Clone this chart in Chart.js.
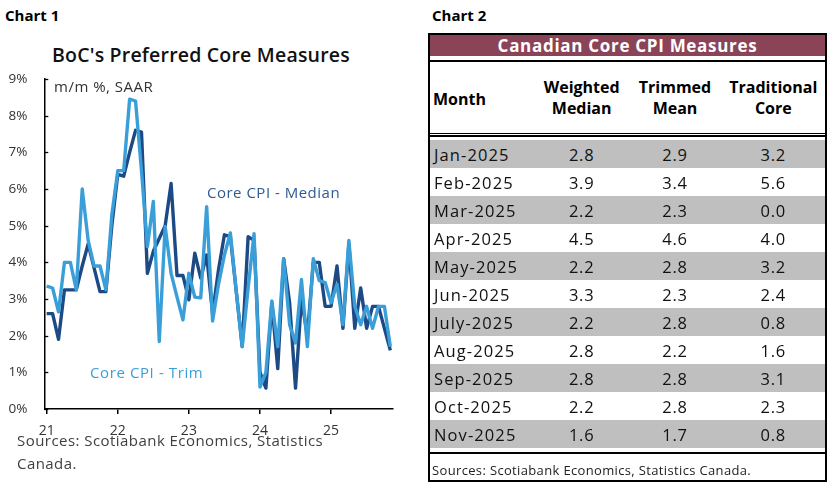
<!DOCTYPE html>
<html>
<head>
<meta charset="utf-8">
<script src="https://cdn.jsdelivr.net/npm/chart.js@4/dist/chart.umd.min.js"></script>
<style>
  html, body { margin: 0; padding: 0; background: #fff; }
  body { width: 828px; height: 483px; position: relative; overflow: hidden; font-family: "Open Sans", "Noto Sans", sans-serif; }
  .t { position: absolute; white-space: nowrap; }
  #c1 { position: absolute; left: 0; top: 0; width: 420px; height: 483px; }
  #tbl { position: absolute; left: 428px; top: 33px; width: 399px; height: 449px; border: 2px solid #000; box-sizing: border-box; }
  #tbl .a { position: absolute; white-space: nowrap; }
  .row { position: absolute; left: 0; right: 0; height: 28px; }
  .cell { position: absolute; top: 0; height: 28px; line-height: 30px; font-size: 16.5px; color: #111; letter-spacing: 1.1px; }
  .num { width: 90px; text-align: center; letter-spacing: 0.8px; }
  .hd { position: absolute; font-weight: 700; font-size: 16px; color: #000; text-align: center; line-height: 21px; }
</style>
</head>
<body>
<div class="t" style="left:5px;top:5px;font-size:15px;font-weight:700;line-height:20px;color:#000;">Chart 1</div>
<div class="t" style="left:52px;top:42px;font-size:19.5px;font-weight:600;line-height:25px;color:#111;letter-spacing:0.2px;">BoC's Preferred Core Measures</div>
<div id="c1"><canvas id="chart"></canvas></div>
<div class="t" style="left:54px;top:76px;font-size:15px;line-height:21px;color:#333;letter-spacing:0.5px;">m/m %, SAAR</div>
<div class="t" style="left:207px;top:182px;font-size:15px;line-height:21px;color:#2f5a92;letter-spacing:0.5px;">Core CPI - Median</div>
<div class="t" style="left:90px;top:362px;font-size:15px;line-height:21px;color:#3a9fd8;letter-spacing:0.6px;">Core CPI - Trim</div>
<div class="t" style="left:17px;top:429px;font-size:15px;line-height:23px;color:#404040;letter-spacing:0.45px;">Sources: Scotiabank Economics, Statistics<br>Canada.</div>

<div class="t" style="left:432px;top:5px;font-size:15px;font-weight:700;line-height:20px;color:#000;">Chart 2</div>
<div id="tbl"></div>

<script>
// ---------- Chart 1 data ----------
const months = [
  "2021-01","2021-02","2021-03","2021-04","2021-05","2021-06","2021-07","2021-08","2021-09","2021-10","2021-11","2021-12",
  "2022-01","2022-02","2022-03","2022-04","2022-05","2022-06","2022-07","2022-08","2022-09","2022-10","2022-11","2022-12",
  "2023-01","2023-02","2023-03","2023-04","2023-05","2023-06","2023-07","2023-08","2023-09","2023-10","2023-11","2023-12",
  "2024-01","2024-02","2024-03","2024-04","2024-05","2024-06","2024-07","2024-08","2024-09","2024-10","2024-11","2024-12",
  "2025-01","2025-02","2025-03","2025-04","2025-05","2025-06","2025-07","2025-08","2025-09","2025-10","2025-11"
];
const coreMedian = [
  2.6, 2.6, 1.9, 3.25, 3.25, 3.25, 3.9, 4.5, 3.85, 3.2, 3.2, 5.0,
  6.4, 6.35, 7.0, 7.6, 7.55, 3.7, 4.3, 4.65, 5.0, 6.15, 3.64, 3.64,
  2.98, 4.25, 3.57, 4.2, 2.6, 3.8, 4.75, 4.7, 3.2, 1.7, 4.7, 4.6,
  1.0, 0.57, 2.9, 1.1, 4.1, 2.9, 0.57, 3.0, 2.0, 4.0, 4.0, 2.8,
  2.8, 3.9, 2.2, 4.5, 2.2, 3.3, 2.2, 2.8, 2.8, 2.2, 1.6
];
const coreTrim = [
  3.35, 3.3, 2.65, 4.0, 4.0, 3.25, 6.0, 4.6, 3.9, 3.9, 3.25, 5.3,
  6.5, 6.5, 8.45, 8.4, 6.5, 4.43, 5.66, 1.84, 4.98, 3.7, 3.05, 2.43,
  3.7, 3.05, 3.03, 5.52, 2.4, 3.4, 4.2, 4.8, 3.2, 1.7, 3.3, 4.78,
  0.6, 1.0, 2.95, 1.7, 4.1, 2.3, 1.8, 3.53, 1.7, 4.1, 3.5, 3.45,
  2.9, 3.4, 2.3, 4.6, 2.8, 2.3, 2.8, 2.2, 2.8, 2.8, 1.7
];
const yearTickLabels = ["21", "22", "23", "24", "25"];
const yTickValues = [0, 1, 2, 3, 4, 5, 6, 7, 8, 9];

// ---------- Chart 2 data ----------
const tableMonths = ["Jan-2025","Feb-2025","Mar-2025","Apr-2025","May-2025","Jun-2025","July-2025","Aug-2025","Sep-2025","Oct-2025","Nov-2025"];
const weightedMedian = ["2.8","3.9","2.2","4.5","2.2","3.3","2.2","2.8","2.8","2.2","1.6"];
const trimmedMean    = ["2.9","3.4","2.3","4.6","2.8","2.3","2.8","2.2","2.8","2.8","1.7"];
const traditionalCore= ["3.2","5.6","0.0","4.0","3.2","2.4","0.8","1.6","3.1","2.3","0.8"];

const DARK = "#1d4a85";
const LIGHT = "#3a9fd8";

const toXY = (arr) => arr.map((v, i) => ({ x: i, y: v }));
const janIndices = months.map((m, i) => m.endsWith("-01") ? i : null).filter(v => v !== null);

const innerTicks = {
  id: "innerTicks",
  afterDraw(chart) {
    const { ctx, chartArea, scales } = chart;
    ctx.save();
    ctx.strokeStyle = "#000";
    ctx.lineWidth = 1.3;
    yTickValues.forEach(v => {
      const y = Math.round(scales.y.getPixelForValue(v)) + 0.5;
      ctx.beginPath();
      ctx.moveTo(chartArea.left, y);
      ctx.lineTo(chartArea.left + 4, y);
      ctx.stroke();
    });
    ctx.restore();
  }
};

new Chart(document.getElementById("chart"), {
  type: "line",
  data: {
    datasets: [
      { label: "Core CPI - Trim", data: toXY(coreTrim), borderColor: LIGHT, borderWidth: 3.4, pointRadius: 0, tension: 0, borderJoinStyle: "round", order: 0 },
      { label: "Core CPI - Median", data: toXY(coreMedian), borderColor: DARK, borderWidth: 3.4, pointRadius: 0, tension: 0, borderJoinStyle: "round", order: 1 }
    ]
  },
  options: {
    responsive: true,
    maintainAspectRatio: false,
    animation: false,
    layout: { padding: { left: 0, top: 79, right: 27, bottom: 44 } },
    plugins: { legend: { display: false }, tooltip: { enabled: false }, title: { display: false } },
    scales: {
      x: {
        type: "linear",
        min: -0.4,
        max: 58.45,
        afterBuildTicks: (scale) => { scale.ticks = janIndices.map(v => ({ value: v })); },
        afterFit: (scale) => { scale.height = 30; },
        border: { display: true, color: "#000", width: 1.5 },
        grid: { display: true, drawOnChartArea: false, drawTicks: true, tickLength: 5, color: "#000", lineWidth: 1.5 },
        ticks: {
          padding: 9,
          maxRotation: 0,
          autoSkip: false,
          color: "#333",
          font: { family: "Open Sans", size: 14 },
          callback: (value, index) => yearTickLabels[index]
        }
      },
      y: {
        min: 0,
        max: 9,
        afterBuildTicks: (scale) => { scale.ticks = yTickValues.map(v => ({ value: v })); },
        afterFit: (scale) => { scale.width = 44.3; },
        border: { display: true, color: "#000", width: 1.5 },
        grid: { display: true, drawOnChartArea: false, drawTicks: false },
        ticks: {
          padding: 17,
          color: "#333",
          font: { family: "Open Sans", size: 13.5 },
          callback: (v) => v + "%"
        }
      }
    }
  },
  plugins: [innerTicks]
});

// ---------- Build table ----------
const tbl = document.getElementById("tbl");
function add(html, style, cls) {
  const d = document.createElement("div");
  d.className = cls || "a";
  d.setAttribute("style", style);
  d.innerHTML = html;
  tbl.appendChild(d);
  return d;
}
// inner coords: x = abs - 430, y = abs - 35
add("Canadian Core CPI Measures", "left:0;right:0;top:0;height:21px;background:#8b4358;color:#fff;font-weight:700;font-size:17px;line-height:21px;text-align:center;letter-spacing:0.7px;");
add("", "left:0;right:0;top:25px;height:2px;background:#000;");
add("Month", "left:3px;top:54px;font-weight:700;font-size:16px;line-height:21px;color:#000;");
const colCenters = [151.7, 245, 343.3];
const headers = [["Weighted","Median"],["Trimmed","Mean"],["Traditional","Core"]];
headers.forEach((h, k) => {
  add(h[0] + "<br>" + h[1], "left:" + (colCenters[k] - 55) + "px;width:110px;top:42px;", "hd");
});
add("", "left:0;right:0;top:98px;height:1px;background:#000;");
add("", "left:0;right:0;top:100px;height:2px;background:#000;");
const rowTop = 105, rowH = 28.03;
tableMonths.forEach((m, r) => {
  const row = document.createElement("div");
  row.className = "row";
  row.style.top = (rowTop + r * rowH) + "px";
  row.style.background = (r % 2 === 0) ? "#bfbfbf" : "#ffffff";
  const vals = [weightedMedian[r], trimmedMean[r], traditionalCore[r]];
  let h = '<div class="cell" style="left:4px;">' + m + '</div>';
  vals.forEach((v, k) => {
    h += '<div class="cell num" style="left:' + (colCenters[k] - 45) + 'px;">' + v + '</div>';
  });
  row.innerHTML = h;
  tbl.appendChild(row);
});
add("", "left:0;right:0;top:417px;height:2px;background:#000;");
add("Sources: Scotiabank Economics, Statistics Canada.", "left:2px;top:426px;font-size:13px;line-height:18px;color:#222;letter-spacing:0.35px;");
</script>
</body>
</html>
